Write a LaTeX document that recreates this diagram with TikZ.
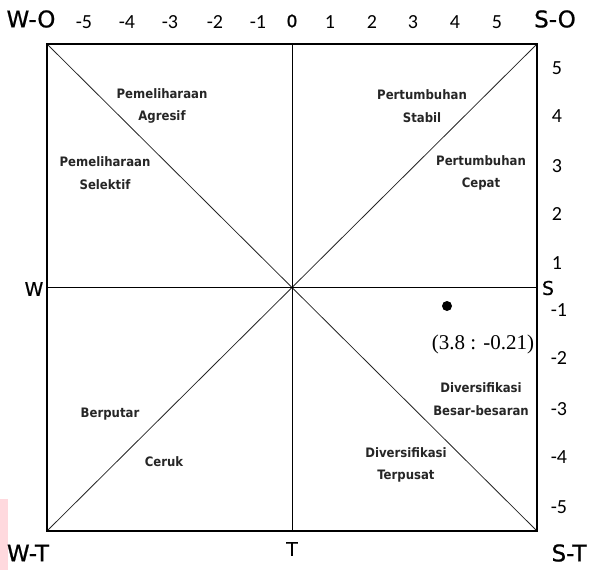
\documentclass[tikz,border=0pt]{standalone}
\usepackage{fontspec}
\newfontfamily\cornerfont[FakeBold=0.8]{DejaVu Sans}
\newfontfamily\zerofont[FakeBold=1.6]{DejaVu Sans}
\newfontfamily\letfont[FakeBold=0.4]{DejaVu Sans}
\newfontfamily\numfont{Carlito}
\newfontfamily\quadfont{DejaVu Sans Condensed}
\newfontfamily\ptfont{Liberation Serif}
\definecolor{pinkbar}{HTML}{FFD9DE}
\tikzset{
  corner/.style={font=\cornerfont\fontsize{23}{26}\selectfont, inner sep=0pt},
  axislet/.style={font=\letfont\fontsize{19}{21}\selectfont, inner sep=0pt},
  num/.style={font=\numfont\fontsize{20}{22}\selectfont, inner sep=0pt},
  quad/.style={font=\quadfont\bfseries\fontsize{13}{22.5}\selectfont, align=center, inner sep=0pt, text=black!85},
  frame/.style={draw=black, line width=1.1pt},
  axis/.style={draw=black, line width=0.9pt},
  diag/.style={draw=black!85, line width=0.8pt}
}
\begin{document}
\begin{tikzpicture}[x=1pt,y=-1pt]
\useasboundingbox (0,0) rectangle (589,570);
\fill[pinkbar] (0,499) rectangle (8,570);
% corners of the square
\coordinate (TL) at (47,44);
\coordinate (TR) at (537,44);
\coordinate (BL) at (47,531);
\coordinate (BR) at (537,531);
\coordinate (C) at (292,287);
\coordinate (Ttop) at (292,44);
\coordinate (Tbot) at (292,531);
\coordinate (Lmid) at (47,287);
\coordinate (Rmid) at (537,287);
\draw[diag] (TL) -- (BR);
\draw[diag] (BL) -- (TR);
\draw[axis] (Ttop) -- (Tbot);
\draw[axis] (Lmid) -- (Rmid);
\draw[frame] (TL) rectangle (BR);
% corner labels
\node[corner] (wo) at (31,19) {W-O};
\node[corner] (so) at (555,19) {S-O};
\node[corner] (wt) at (28,553) {W-T};
\node[corner] (st) at (569,553) {S-T};
\node[axislet] (w) at (34,289) {W};
\node[axislet] (s) at (548,288) {S};
\node[axislet] (t) at (292,549) {T};
\node[font=\zerofont\fontsize{17}{18}\selectfont, inner sep=0pt] (o) at (292,21) {0};
% top numbers
\foreach \v/\x in {-5/84,-4/127,-3/170,-2/215,-1/258,1/330,2/372,3/413,4/455,5/497}
  \node[num] (top\v) at (\x,22) {\v};
% right numbers
\foreach \v/\y in {5/68,4/116,3/166,2/214,1/263}
  \node[num] (r\v) at (557,\y) {\v};
\foreach \v/\y in {-1/310,-2/358,-3/409,-4/457,-5/507}
  \node[num] (r\v) at (559,\y) {\v};
% quadrant labels
\node[quad] (pa) at (162,106) {Pemeliharaan\\Agresif};
\node[quad] (ps) at (105,173) {Pemeliharaan\\Selektif};
\node[quad] (pst) at (422,106) {Pertumbuhan\\Stabil};
\node[quad] (pc) at (481,173) {Pertumbuhan\\Cepat};
\node[quad] (bp) at (110,414) {Berputar};
\node[quad] (cr) at (164,462) {Ceruk};
\node[quad] (db) at (481,399) {Diversifikasi\\Besar-besaran};
\node[quad] (dt) at (406,465) {Diversifikasi\\Terpusat};
% point
\fill (447,306) circle (5);
\node[font=\ptfont\fontsize{21}{22}\selectfont, inner sep=0pt] (pt) at (483,344) {(3.8 : -0.21)};
\end{tikzpicture}
\end{document}
